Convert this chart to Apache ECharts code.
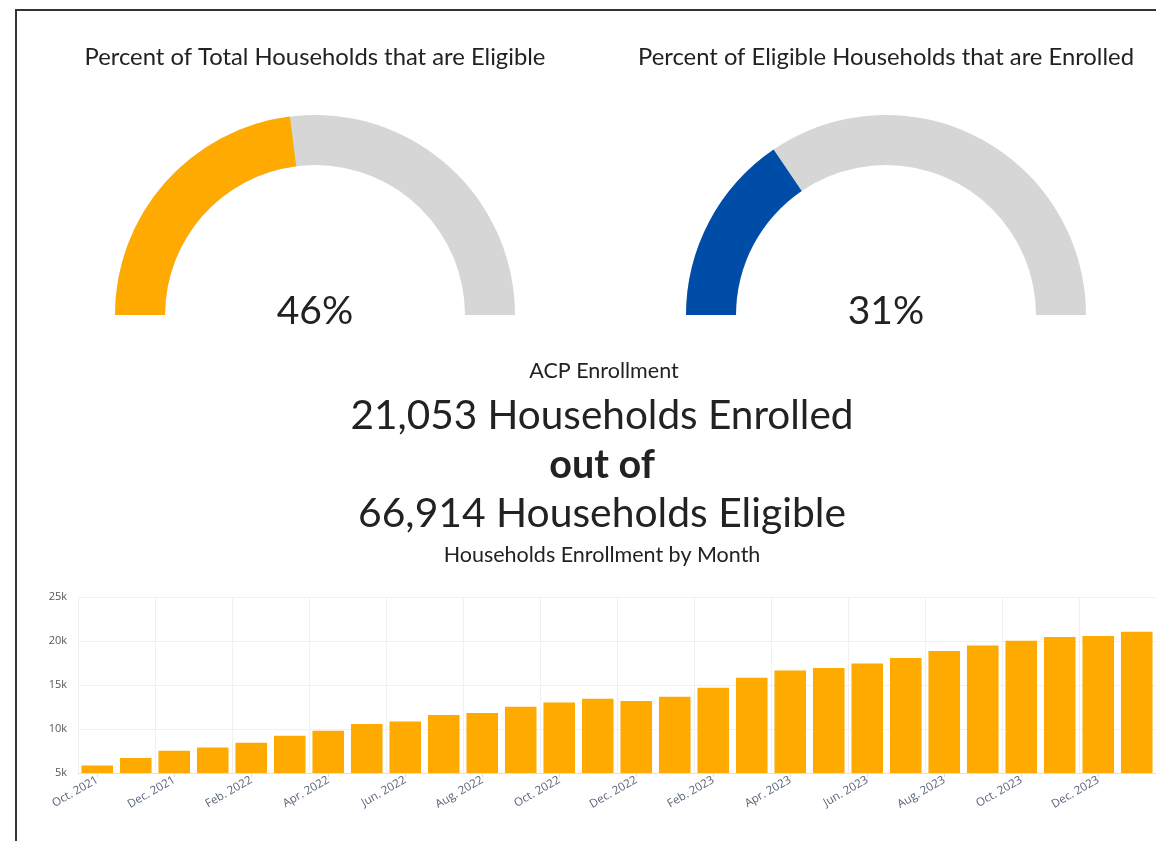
<!DOCTYPE html>
<html>
<head>
<meta charset="utf-8">
<title>ACP Enrollment</title>
<script src="https://cdn.jsdelivr.net/npm/echarts@6.0.0/dist/echarts.min.js"></script>
<style>
  html, body { margin: 0; padding: 0; background: #fff; overflow: hidden; }
  #main { width: 1156px; height: 841px; }
</style>
</head>
<body>
<div id="main"></div>
<script type="text/javascript">
// data
var months = ['Oct. 2021', 'Nov. 2021', 'Dec. 2021', 'Jan. 2022', 'Feb. 2022', 'Mar. 2022',
    'Apr. 2022', 'May. 2022', 'Jun. 2022', 'Jul. 2022', 'Aug. 2022', 'Sep. 2022',
    'Oct. 2022', 'Nov. 2022', 'Dec. 2022', 'Jan. 2023', 'Feb. 2023', 'Mar. 2023',
    'Apr. 2023', 'May. 2023', 'Jun. 2023', 'Jul. 2023', 'Aug. 2023', 'Sep. 2023',
    'Oct. 2023', 'Nov. 2023', 'Dec. 2023', 'Jan. 2024'];
var enrolled = [5850, 6700, 7530, 7910, 8440, 9240, 9810, 10570, 10860, 11590,
    11820, 12530, 13020, 13440, 13180, 13670, 14690, 15830, 16660, 16930,
    17450, 18070, 18860, 19500, 20030, 20450, 20570, 21053];
var yTicks = [5000, 10000, 15000, 20000, 25000];

var eligiblePct = 46;   // percent of total households that are eligible
var enrolledPct = 31;   // percent of eligible households that are enrolled
var totalEnrolled = '21,053';
var totalEligible = '66,914';

var gaugeTitles = ['Percent of Total Households that are Eligible', 'Percent of Eligible Households that are Enrolled'];

var FONT = 'Lato';
var INK = '#222';
var ORANGE = '#FFAA00';
var BLUE = '#004DA8';
var GREY = '#D6D6D6';

function txt(x, y, text, size, weight) {
    return {
        type: 'text', x: x, y: y,
        style: {
            text: text, fill: INK, fontFamily: FONT, fontSize: size,
            fontWeight: weight || 'normal', align: 'center', verticalAlign: 'middle'
        }
    };
}

function gauge(center, value, color) {
    return {
        type: 'gauge',
        center: center,
        radius: 200,
        startAngle: 180,
        endAngle: 0,
        min: 0,
        max: 100,
        progress: { show: true, width: 50, roundCap: false, itemStyle: { color: color } },
        axisLine: { lineStyle: { width: 50, color: [[1, GREY]] } },
        pointer: { show: false },
        anchor: { show: false },
        axisTick: { show: false },
        splitLine: { show: false },
        axisLabel: { show: false },
        title: { show: false },
        detail: {
            offsetCenter: [0, -4],
            formatter: '{value}%',
            fontFamily: FONT,
            fontSize: 39,
            fontWeight: 'normal',
            color: INK
        },
        data: [{ value: value }]
    };
}

var myChart = echarts.init(document.getElementById('main'));

var option = {
    animation: false,
    backgroundColor: '#fff',
    graphic: [
        // page frame (left + top edge)
        {
            type: 'polyline',
            shape: { points: [[16, 841], [16, 10], [1156, 10]] },
            style: { stroke: '#333', lineWidth: 2, fill: null }
        },
        txt(315, 57, gaugeTitles[0], 23.8),
        txt(886, 57, gaugeTitles[1], 23.8),
        txt(604, 371, 'ACP Enrollment', 21.5),
        txt(602, 416, totalEnrolled + ' Households Enrolled', 40.5),
        txt(602, 465, 'out of', 39.5, 'bold'),
        txt(602, 514, totalEligible + ' Households Eligible', 40.8),
        txt(602, 555, 'Households Enrollment by Month', 21.5)
    ],
    grid: { left: 78, right: -2, top: 597, bottom: 68, containLabel: false },
    xAxis: {
        type: 'category',
        data: months,
        axisLine: { lineStyle: { color: '#e0e0e0' } },
        axisTick: { show: true, alignWithLabel: true, length: 4, interval: 1, lineStyle: { color: '#ddd' } },
        axisLabel: {
            interval: 1, rotate: 30, fontFamily: 'Open Sans', fontSize: 11.5,
            color: '#58627a', margin: 6
        },
        splitLine: { show: true, interval: 1, lineStyle: { color: '#f0f0f0' } }
    },
    yAxis: {
        type: 'value',
        min: yTicks[0],
        max: yTicks[yTicks.length - 1],
        interval: yTicks[1] - yTicks[0],
        axisLine: { show: false },
        axisTick: { show: false },
        axisLabel: {
            fontFamily: 'Open Sans', fontSize: 11, color: '#555', margin: 11,
            formatter: function (v) { return (v / 1000) + 'k'; }
        },
        splitLine: { lineStyle: { color: '#f0f0f0' } }
    },
    series: [
        gauge([315, 315], eligiblePct, ORANGE),
        gauge([886, 315], enrolledPct, BLUE),
        {
            type: 'bar',
            data: enrolled,
            barCategoryGap: '18%',
            itemStyle: { color: ORANGE }
        }
    ]
};

myChart.setOption(option);
</script>
</body>
</html>
